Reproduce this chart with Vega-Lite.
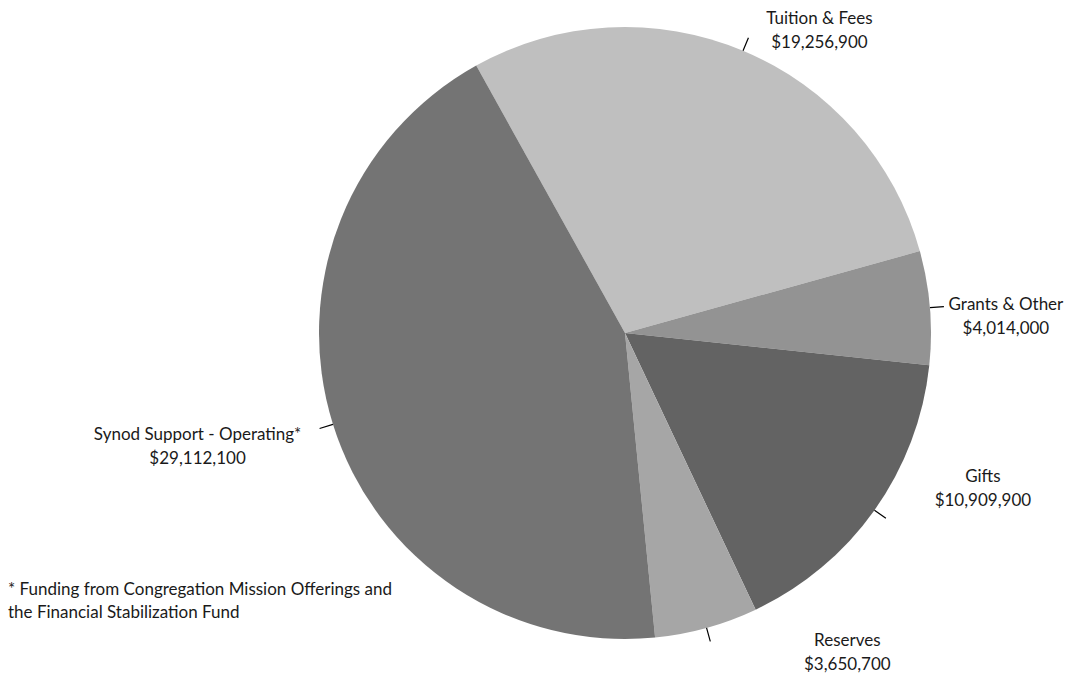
{
  "$schema": "https://vega.github.io/schema/vega-lite/v6.json",
  "width": 906,
  "height": 666,
  "autosize": {"type": "none"},
  "padding": {"left": 172, "top": 0, "right": 0, "bottom": 11},
  "background": "white",
  "config": {"view": {"stroke": null}, "font": "Lato"},
  "title": {
    "text": ["* Funding from Congregation Mission Offerings and", "the Financial Stabilization Fund"],
    "orient": "bottom",
    "anchor": "start",
    "frame": "group",
    "offset": -91.5,
    "dx": -164,
    "font": "Lato",
    "fontSize": 17,
    "fontWeight": "normal",
    "color": "#1a1a1a",
    "lineHeight": 23
  },
  "data": {
    "values": [
      {"category": "Tuition & Fees", "value": 19256900, "order": 1, "label": "$19,256,900"},
      {"category": "Grants & Other", "value": 4014000, "order": 2, "label": "$4,014,000"},
      {"category": "Gifts", "value": 10909900, "order": 3, "label": "$10,909,900"},
      {"category": "Reserves", "value": 3650700, "order": 4, "label": "$3,650,700"},
      {"category": "Synod Support - Operating*", "value": 29112100, "order": 5, "label": "$29,112,100"}
    ]
  },
  "transform": [
    {"stack": "value", "groupby": [], "sort": [{"field": "order", "order": "ascending"}], "as": ["s0", "s1"]},
    {"calculate": "(datum.s0 + datum.s1) / 2", "as": "mid"},
    {"calculate": "[datum.category, datum.label]", "as": "text"}
  ],
  "layer": [
    {
      "mark": {"type": "arc", "radius": 306},
      "encoding": {
        "theta": {"field": "s0", "type": "quantitative", "stack": null, "scale": {"domain": [0, 66943600], "range": [-0.5077, 5.7755], "zero": true, "nice": false}},
        "theta2": {"field": "s1"},
        "color": {
          "field": "category",
          "type": "nominal",
          "legend": null,
          "scale": {
            "domain": ["Tuition & Fees", "Grants & Other", "Gifts", "Reserves", "Synod Support - Operating*"],
            "range": ["#bfbfbf", "#939393", "#636363", "#a6a6a6", "#747474"]
          }
        }
      }
    },
    {
      "mark": {"type": "arc", "radius": 306, "radius2": 320, "stroke": "#000000", "strokeWidth": 1.2, "fill": null},
      "encoding": {
        "theta": {"field": "mid", "type": "quantitative", "stack": null},
        "theta2": {"field": "mid"}
      }
    },
    {
      "transform": [{"filter": "datum.order == 1"}],
      "mark": {"type": "text", "radius": 320, "dx": 71, "dy": -19, "align": "center", "baseline": "middle", "fontSize": 17, "lineHeight": 24, "color": "#1a1a1a"},
      "encoding": {"theta": {"field": "mid", "type": "quantitative", "stack": null}, "text": {"field": "text"}}
    },
    {
      "transform": [{"filter": "datum.order == 2"}],
      "mark": {"type": "text", "radius": 320, "dx": 62, "dy": -2, "align": "center", "baseline": "middle", "fontSize": 17, "lineHeight": 24, "color": "#1a1a1a"},
      "encoding": {"theta": {"field": "mid", "type": "quantitative", "stack": null}, "text": {"field": "text"}}
    },
    {
      "transform": [{"filter": "datum.order == 3"}],
      "mark": {"type": "text", "radius": 320, "dx": 97, "dy": -41, "align": "center", "baseline": "middle", "fontSize": 17, "lineHeight": 24, "color": "#1a1a1a"},
      "encoding": {"theta": {"field": "mid", "type": "quantitative", "stack": null}, "text": {"field": "text"}}
    },
    {
      "transform": [{"filter": "datum.order == 4"}],
      "mark": {"type": "text", "radius": 320, "dx": 137, "dy": 0, "align": "center", "baseline": "middle", "fontSize": 17, "lineHeight": 24, "color": "#1a1a1a"},
      "encoding": {"theta": {"field": "mid", "type": "quantitative", "stack": null}, "text": {"field": "text"}}
    },
    {
      "transform": [{"filter": "datum.order == 5"}],
      "mark": {"type": "text", "radius": 320, "dx": -122, "dy": 6, "align": "center", "baseline": "middle", "fontSize": 17, "lineHeight": 24, "color": "#1a1a1a"},
      "encoding": {"theta": {"field": "mid", "type": "quantitative", "stack": null}, "text": {"field": "text"}}
    }
  ]
}
